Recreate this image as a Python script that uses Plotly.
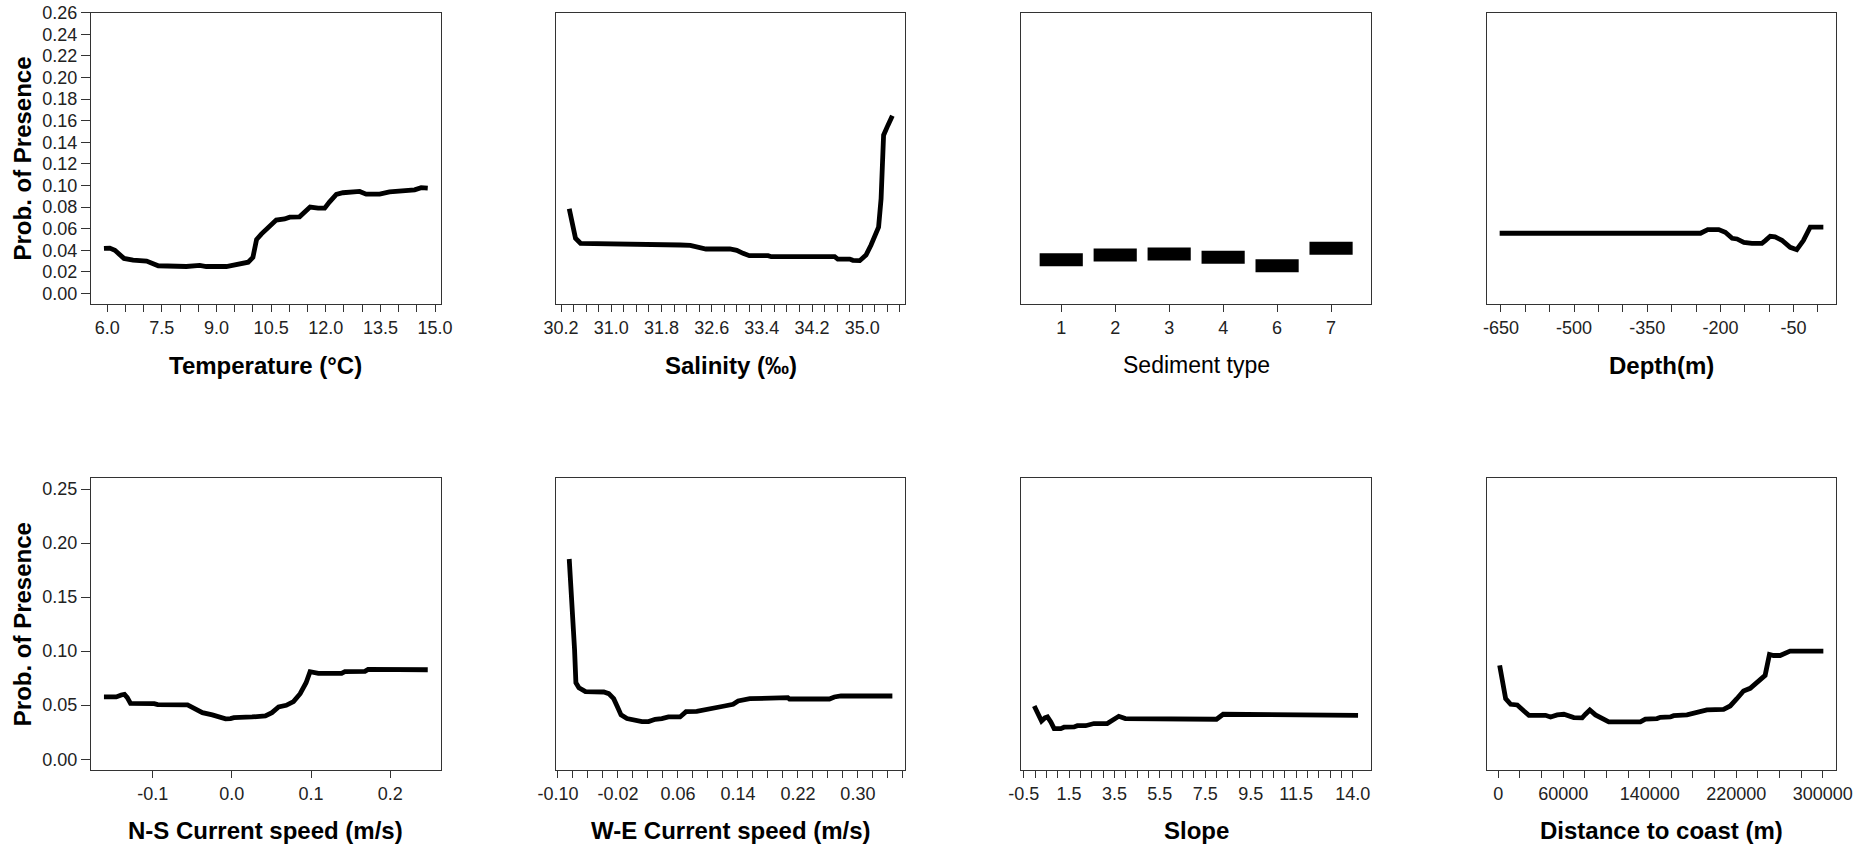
import numpy as np
import plotly.graph_objects as go

# ---------------- partial dependence curves ----------------
temp_x = [5.91, 6.07, 6.21, 6.46, 6.71, 7.08, 7.40, 8.17, 8.54, 8.72, 9.27, 9.55, 9.73, 9.87,
          10.00, 10.10, 10.23, 10.46, 10.64, 10.87, 11.01, 11.28, 11.42, 11.57, 11.79, 11.97,
          12.10, 12.29, 12.47, 12.84, 12.93, 13.11, 13.48, 13.75, 13.98, 14.12, 14.44, 14.62, 14.80]
temp_y = [0.0418, 0.0420, 0.0400, 0.0325, 0.0310, 0.0300, 0.0257, 0.0250, 0.0260, 0.0250, 0.0250,
          0.0267, 0.0280, 0.0290, 0.0335, 0.0500, 0.0550, 0.0630, 0.0680, 0.0690, 0.0707, 0.0710,
          0.0750, 0.0800, 0.0790, 0.0790, 0.0846, 0.0917, 0.0933, 0.0940, 0.0945, 0.0920, 0.0920,
          0.0940, 0.0948, 0.0960, 0.0960, 0.0980, 0.0976]

sal_x = [30.33, 30.43, 30.51, 32.04, 32.10, 32.26, 32.39, 32.51, 32.89, 33.00, 33.10, 33.20,
         33.50, 33.55, 34.56, 34.61, 34.80, 34.85, 34.96, 35.06, 35.14, 35.26, 35.30, 35.34,
         35.41, 35.48]
sal_y = [0.0784, 0.0511, 0.0465, 0.0459, 0.0449, 0.0446, 0.0434, 0.0412, 0.0412, 0.0400, 0.0372,
         0.0350, 0.0350, 0.0341, 0.0341, 0.0319, 0.0319, 0.0307, 0.0304, 0.0356, 0.0449, 0.0614,
         0.0877, 0.1466, 0.1559, 0.1646]

sed_levels = ["1", "2", "3", "4", "6", "7"]
sed_prob = [0.0313, 0.0356, 0.0366, 0.0335, 0.0257, 0.0418]

depth_x = [-652.7, -240.9, -226, -203.5, -190, -176, -166, -152, -135.5, -115, -108, -98, -88,
           -74, -57, -43.5, -30, -16, 11]
depth_y = [0.0558, 0.0558, 0.0592, 0.0592, 0.0567, 0.0511, 0.0505, 0.0474, 0.0465, 0.0465,
           0.0490, 0.0530, 0.0524, 0.0493, 0.0428, 0.0406, 0.0490, 0.0614, 0.0614]

ns_x = [-0.1615, -0.146, -0.1397, -0.1356, -0.132, -0.128, -0.098, -0.0937, -0.056, -0.0477,
        -0.0372, -0.0247, -0.0142, -0.008, -0.0017, 0.0025, 0.0255, 0.0423, 0.0506, 0.059,
        0.0686, 0.0778, 0.0862, 0.0937, 0.0987, 0.105, 0.1092, 0.1385, 0.1427, 0.168, 0.172,
        0.2473]
ns_y = [0.0576, 0.0576, 0.0594, 0.0600, 0.0570, 0.0517, 0.0514, 0.0505, 0.0502, 0.0468, 0.0431,
        0.0410, 0.0382, 0.0373, 0.0376, 0.0385, 0.0391, 0.0400, 0.0431, 0.0483, 0.0499, 0.0533,
        0.0606, 0.0708, 0.0810, 0.0807, 0.0794, 0.0794, 0.0810, 0.0813, 0.0831, 0.0828]

we_x = [-0.085, -0.081, -0.0779, -0.0761, -0.0721, -0.0633, -0.0389, -0.0323, -0.0257, -0.0212,
        -0.0159, -0.008, 0.0009, 0.012, 0.0208, 0.0296, 0.0385, 0.0473, 0.0628, 0.0708, 0.085,
        0.0938, 0.107, 0.1204, 0.1336, 0.1403, 0.1558, 0.1823, 0.2066, 0.2088, 0.262, 0.2686,
        0.2774, 0.346]
we_y = [0.1853, 0.1447, 0.1016, 0.0708, 0.0662, 0.0625, 0.0622, 0.0607, 0.0560, 0.0493, 0.0410,
        0.0376, 0.0363, 0.0348, 0.0348, 0.0369, 0.0376, 0.0391, 0.0391, 0.0440, 0.0443, 0.0456,
        0.0480, 0.0490, 0.0508, 0.0539, 0.0560, 0.0570, 0.0570, 0.0557, 0.0557, 0.0576, 0.0585,
        0.0585]

slope_x = [-0.033, 0.142, 0.288, 0.434, 0.551, 0.697, 0.843, 1.135, 1.28, 1.72, 1.865, 2.23,
           2.376, 2.595, 3.18, 3.40, 3.69, 3.98, 7.996, 8.29, 9.31, 9.38, 14.23]
slope_y = [0.0493, 0.0416, 0.0354, 0.0382, 0.0391, 0.0345, 0.0283, 0.0283, 0.0296, 0.0299,
           0.0310, 0.0310, 0.0320, 0.0330, 0.0330, 0.0363, 0.0397, 0.0376, 0.0370, 0.0416,
           0.0416, 0.0406, 0.0406]

dist_x = [1231, 4615, 6769, 11385, 17538, 23692, 28308, 43692, 48308, 54462, 60615, 69846,
          77538, 80615, 84615, 89846, 97538, 102154, 131385, 136000, 146769, 149846, 159077,
          162154, 174462, 183692, 189846, 192923, 208308, 214462, 220615, 226769, 232923,
          239077, 246769, 250769, 254462, 260615, 266769, 269846, 300615]
dist_y = [0.0868, 0.0708, 0.0560, 0.0508, 0.0502, 0.0446, 0.0406, 0.0406, 0.0391, 0.0410,
          0.0416, 0.0385, 0.0382, 0.0416, 0.0456, 0.0410, 0.0376, 0.0345, 0.0345, 0.0370,
          0.0376, 0.0388, 0.0391, 0.0403, 0.0410, 0.0434, 0.0446, 0.0456, 0.0462, 0.0493,
          0.0560, 0.0631, 0.0656, 0.0708, 0.0776, 0.0970, 0.0960, 0.0960, 0.0985, 0.1000,
          0.1000]

# ---------------- axis ticks ----------------
temp_ticks = (6.0, 15.0, 0.5);        temp_labels = [6.0, 7.5, 9.0, 10.5, 12.0, 13.5, 15.0]
sal_ticks = (30.2, 35.6, 0.2);        sal_labels = [30.2, 31.0, 31.8, 32.6, 33.4, 34.2, 35.0]
depth_ticks = (-650, 0, 50);          depth_labels = [-650, -500, -350, -200, -50]
ns_ticks = (-0.1, 0.2, 0.1);          ns_labels = [-0.1, 0.0, 0.1, 0.2]
we_ticks = (-0.10, 0.36, 0.02);       we_labels = [-0.10, -0.02, 0.06, 0.14, 0.22, 0.30]
slope_ticks = (-0.5, 14.0, 0.5);      slope_labels = [-0.5, 1.5, 3.5, 5.5, 7.5, 9.5, 11.5, 14.0]
dist_ticks = (0, 300000, 20000);      dist_labels = [0, 60000, 140000, 220000, 300000]

y_top_ticks = (0.0, 0.26, 0.02)
y_bottom_ticks = (0.0, 0.25, 0.05)

# ---------------- layout geometry (pixels) ----------------
W, H = 1874, 851
col_left = [91.0, 556.3, 1021.3, 1486.7]
col_right = [440.7, 905.3, 1371.0, 1836.3]
row_top = [12.7, 478.3]
row_bottom = [304.3, 770.0]
title_y_px = [365, 830]

FONT = "Arial, Liberation Sans, sans-serif"
TICK_COL = "#222222"
FRAME_COL = "#333333"
LINE_W = 4.8
TICK_SIZE = 18
TITLE_SIZE = 24


def padded(lo, hi, frac=0.04):
    d = (hi - lo) * frac
    return [lo - d, hi + d]


def make_ticks(spec, labelled, fmt):
    start, stop, step = spec
    n = int(round((stop - start) / step)) + 1
    vals = [round(start + i * step, 8) + 0.0 for i in range(n)]
    text = []
    for v in vals:
        if any(abs(v - l) < 1e-9 for l in labelled):
            text.append(fmt.format(v + 0.0))
        else:
            text.append("")
    return vals, text


panels = [
    dict(x=temp_x, y=temp_y, ticks=make_ticks(temp_ticks, temp_labels, "{:.1f}"),
         title="Temperature (°C)", bold=True),
    dict(x=sal_x, y=sal_y, ticks=make_ticks(sal_ticks, sal_labels, "{:.1f}"),
         title="Salinity (‰)", bold=True),
    dict(x=None, y=None, ticks=None, title="Sediment type", bold=False),
    dict(x=depth_x, y=depth_y, ticks=make_ticks(depth_ticks, depth_labels, "{:.0f}"),
         title="Depth(m)", bold=True),
    dict(x=ns_x, y=ns_y, ticks=make_ticks(ns_ticks, ns_labels, "{:.1f}"),
         title="N-S Current speed (m/s)", bold=True),
    dict(x=we_x, y=we_y, ticks=make_ticks(we_ticks, we_labels, "{:.2f}"),
         title="W-E Current speed (m/s)", bold=True),
    dict(x=slope_x, y=slope_y, ticks=make_ticks(slope_ticks, slope_labels, "{:.1f}"),
         title="Slope", bold=True),
    dict(x=dist_x, y=dist_y, ticks=make_ticks(dist_ticks, dist_labels, "{:.0f}"),
         title="Distance to coast (m)", bold=True),
]

fig = go.Figure()
layout = dict(
    width=W, height=H, autosize=False,
    margin=dict(l=0, r=0, t=0, b=0, pad=0),
    paper_bgcolor="white", plot_bgcolor="white",
    showlegend=False,
    font=dict(family=FONT, color=TICK_COL),
)
annotations = []
y_range = padded(0.0, 0.25)

for i, p in enumerate(panels):
    k = i + 1
    row, col = divmod(i, 4)
    xs = "" if k == 1 else str(k)
    xname, yname = "x" + xs, "y" + xs

    if p["x"] is None:
        # factor levels drawn as flat segments centred on their index
        seg_x, seg_y = [], []
        for j, v in enumerate(sed_prob):
            seg_x += [j + 1 - 0.4, j + 1 + 0.4, None]
            seg_y += [v, v, None]
        fig.add_trace(go.Scatter(x=seg_x, y=seg_y, mode="lines",
                                 line=dict(color="black", width=13),
                                 xaxis=xname, yaxis=yname, hoverinfo="skip"))
        xrange = padded(0.5, len(sed_levels) + 0.5)
        tickvals = list(range(1, len(sed_levels) + 1))
        ticktext = sed_levels
    else:
        fig.add_trace(go.Scatter(x=p["x"], y=p["y"], mode="lines",
                                 line=dict(color="black", width=LINE_W, shape="linear"),
                                 xaxis=xname, yaxis=yname))
        xrange = padded(min(p["x"]), max(p["x"]))
        tickvals, ticktext = p["ticks"]

    xdom = [col_left[col] / W, col_right[col] / W]
    ydom = [1 - row_bottom[row] / H, 1 - row_top[row] / H]

    layout["xaxis" + xs] = dict(
        domain=xdom, range=xrange, anchor=yname, automargin=False,
        showline=True, mirror=True, linecolor=FRAME_COL, linewidth=1.3,
        showgrid=False, zeroline=False,
        ticks="outside", ticklen=7, tickwidth=1.2, tickcolor=FRAME_COL,
        tickmode="array", tickvals=tickvals, ticktext=ticktext,
        tickfont=dict(family=FONT, size=TICK_SIZE, color=TICK_COL),
        fixedrange=True,
    )
    ydict = dict(
        domain=ydom, range=y_range, anchor=xname, automargin=False,
        showline=True, mirror=True, linecolor=FRAME_COL, linewidth=1.3,
        showgrid=False, zeroline=False, fixedrange=True,
    )
    if col == 0:
        spec = y_top_ticks if row == 0 else y_bottom_ticks
        yv, yt = make_ticks(spec, [spec[0] + j * spec[2] for j in range(100)], "{:.2f}")
        ydict.update(ticks="outside", ticklen=9, tickwidth=1.2, tickcolor=FRAME_COL,
                     tickmode="array", tickvals=yv, ticktext=yt,
                     tickfont=dict(family=FONT, size=TICK_SIZE, color=TICK_COL))
        annotations.append(dict(
            text="<b>Prob. of Presence</b>", textangle=-90,
            xref="paper", x=22 / W, xanchor="center",
            yref=yname + " domain", y=0.5, yanchor="middle",
            showarrow=False, font=dict(family=FONT, size=TITLE_SIZE, color="black")))
    else:
        ydict.update(ticks="", showticklabels=False)
    layout["yaxis" + xs] = ydict

    label = "<b>%s</b>" % p["title"] if p["bold"] else p["title"]
    annotations.append(dict(
        text=label, xref=xname + " domain", x=0.5, xanchor="center",
        yref="paper", y=1 - title_y_px[row] / H, yanchor="middle",
        showarrow=False,
        font=dict(family=FONT, size=TITLE_SIZE if p["bold"] else TITLE_SIZE - 1, color="black")))

layout["annotations"] = annotations
fig.update_layout(**layout)
fig.write_html("out.html")
